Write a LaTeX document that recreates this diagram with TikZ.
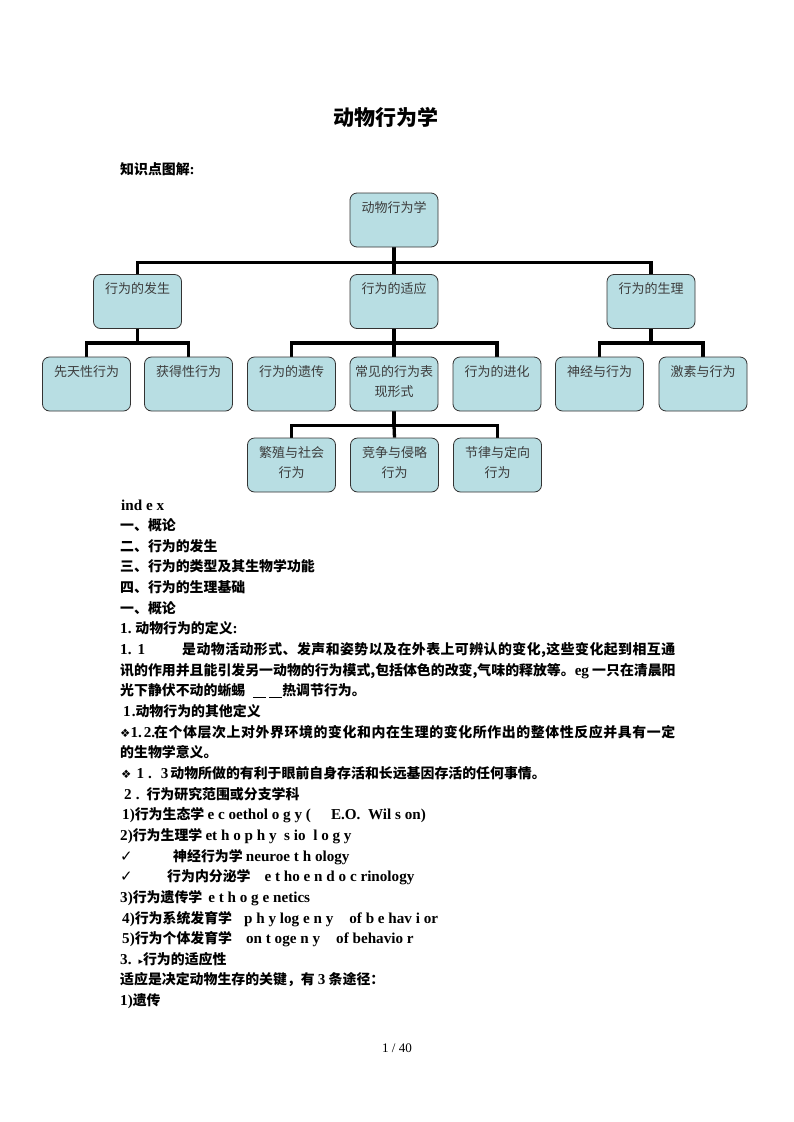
\documentclass[tikz,border=0pt]{standalone}
\usepackage{fontspec}
\setmainfont{Noto Sans CJK SC}
\newfontfamily\lat{Liberation Serif}[Scale=1.09]
\newfontfamily\sym{DejaVu Sans}
\usetikzlibrary{backgrounds}
\definecolor{boxfill}{RGB}{184,222,227}
\definecolor{boxtext}{RGB}{60,60,60}
\newcommand\La[1]{{\lat #1}}
\def\sprA#1{#1\sprB}
\def\sprB#1{\ifx#1\relax\else\hfil#1\expandafter\sprB\fi}
\newcommand\spreadto[2]{\hbox to #1{\sprA#2\relax}}
\newcommand\bx[1]{\parbox[t][54pt][t]{88pt}{\centering\rule{0pt}{19pt}#1}}
\newcommand\dia{{\sym\fontsize{11.5}{12}\selectfont ❖}}
\newcommand\chk{{\sym\mdseries\fontsize{15}{15}\selectfont ✓}}
\tikzset{
  cbox/.style={draw=black!80, line width=0.8pt, fill=boxfill, rounded corners=7pt,
    inner sep=0pt, text=boxtext, font=\fontsize{13}{20.5}\selectfont},
  conn/.style={line width=3.3pt, black},
  txt/.style={anchor=base west, inner sep=0pt, font=\fontsize{13.9}{16}\selectfont\bfseries},
}
\begin{document}
\begin{tikzpicture}[x=1pt, y=-1pt]
\useasboundingbox (0,0) rectangle (793,1122);

\node[anchor=base, inner sep=0pt, font=\fontsize{21}{24}\selectfont\bfseries] (title) at (385.5,125) {动物行为学};
\node[txt] (sub) at (120,174) {知识点图解\La{:}};

% tree
\node[cbox] (root) at (394,220) {\bx{动物行为学}};
\node[cbox] (fa) at (137.5,301.5) {\bx{行为的发生}};
\node[cbox] (sy) at (394,301.5) {\bx{行为的适应}};
\node[cbox] (sl) at (651,301.5) {\bx{行为的生理}};
\node[cbox] (xt) at (86.5,384) {\bx{先天性行为}};
\node[cbox] (hd) at (188.5,384) {\bx{获得性行为}};
\node[cbox] (yc) at (291.5,384) {\bx{行为的遗传}};
\node[cbox] (cj) at (394,384) {\bx{常见的行为表\\现形式}};
\node[cbox] (jh) at (497,384) {\bx{行为的进化}};
\node[cbox] (sj) at (599.5,384) {\bx{神经与行为}};
\node[cbox] (js) at (703,384) {\bx{激素与行为}};
\node[cbox] (fz) at (291.5,465) {\bx{繁殖与社会\\行为}};
\node[cbox] (jz) at (394.5,465) {\bx{竞争与侵略\\行为}};
\node[cbox] (jl) at (497.5,465) {\bx{节律与定向\\行为}};

\begin{scope}[on background layer]
\fill[white] (0,0) rectangle (793,1122);
\draw[conn] (root.south) -- ++(0,15) coordinate (j1);
\draw[conn] (fa.north) |- (j1) -| (sl.north);
\draw[conn] (j1) -- (sy.north);
\draw[conn] (fa.south) -- ++(0,14) coordinate (j2);
\draw[conn] (xt.north) |- (j2) -| (hd.north);
\draw[conn] (sy.south) -- ++(0,14) coordinate (j3);
\draw[conn] (yc.north) |- (j3) -| (jh.north);
\draw[conn] (j3) -- (cj.north);
\draw[conn] (sl.south) -- ++(0,14) coordinate (j4);
\draw[conn] (sj.north) |- (j4) -| (js.north);
\draw[conn] (cj.south) -- ++(0,14) coordinate (j5);
\draw[conn] (fz.north) |- (j5) -| (jl.north);
\draw[conn] (j5) -- (jz.north);
\end{scope}

% text lines
\node[txt] (l0) at (121,510) {\La{ind e x}};
\node[txt] (l1) at (120,530.65) {一、概论};
\node[txt] (l2) at (120,551.3) {二、行为的发生};
\node[txt] (l3) at (120,571.95) {三、行为的类型及其生物学功能};
\node[txt] (l4) at (120,592.6) {四、行为的生理基础};
\node[txt] (l5) at (120,613.25) {一、概论};
\node[txt] (l6) at (120,633.9) {\La{1.\ }动物行为的定义\La{:}};
\node[txt] (l7) at (120,654.55) {\makebox[62pt][l]{\La{1.\hspace{6pt}1}}\spreadto{493pt}{是动物活动形式、发声和姿势以及在外表上可辨认的变化,这些变化起到相互通}};
\node[txt] (l8) at (120,675.2) {讯的作用并且能引发另一动物的行为模式,包括体色的改变,气味的释放等。\La{eg} 一只在清晨阳};
\node[txt] (l9) at (120,695.85) {光下静伏不动的蜥蜴\hspace{8pt}\rule[-2pt]{13pt}{1pt}\hspace{3pt}\rule[-2pt]{13pt}{1pt}热调节行为。};
\node[txt] (l10) at (123,716.5) {\La{1\hspace{1pt}.}动物行为的其他定义};
\node[txt] (l11) at (120,737.15) {\makebox[34pt][l]{\dia\La{1.\hspace{2pt}2.}}\spreadto{521pt}{在个体层次上对外界环境的变化和内在生理的变化所作出的整体性反应并具有一定}};
\node[txt] (l12) at (120,757.8) {的生物学意义。};
\node[txt] (l13) at (121,778.45) {\dia\hspace{5pt}\La{1\hspace{4pt}.\hspace{9pt}3}\hspace{2pt}动物所做的有利于眼前自身存活和长远基因存活的任何事情。};
\node[txt] (l14) at (124,799.1) {\La{2\hspace{4pt}.}\hspace{7pt}行为研究范围或分支学科};
\node[txt] (l15) at (122,819.75) {\La{1)}行为生态学 \La{e c oethol o g y (\hspace{20pt}E.O.\ \ Wil s on)}};
\node[txt] (l16) at (120,840.4) {\La{2)}行为生理学 \La{et h o p h y\ \ s io\ \ l o g y}};
\node[txt] (l17) at (120,861.05) {\makebox[53pt][l]{\chk}神经行为学 \La{neuroe\ t\ h ology}};
\node[txt] (l18) at (120,881.7) {\makebox[47pt][l]{\chk}行为内分泌学\hspace{14pt}\La{e t ho e n d o c rinology}};
\node[txt] (l19) at (120,902.35) {\La{3)}行为遗传学\hspace{6pt}\La{e\ t h o g e netics}};
\node[txt] (l20) at (122,923) {\La{4)}行为系统发育学\hspace{12pt}\La{p h y log e n y\hspace{16pt}of b e hav i or}};
\node[txt] (l21) at (122,943.65) {\La{5)}行为个体发育学\hspace{14pt}\La{on t oge n y\hspace{16pt}of behavio r}};
\node[txt] (l22) at (120,964.3) {\La{3.}\hspace{7pt}{\sym\fontsize{9}{9}\selectfont ▸}行为的适应性};
\node[txt] (l23) at (120,984.95) {适应是决定动物生存的关键，有 \La{3} 条途径：};
\node[txt] (l24) at (120,1005.6) {\La{1)}遗传};

\node[anchor=base, inner sep=0pt, font=\lat\fontsize{12}{14}\selectfont] (page) at (397,1052) {1 / 40};
\end{tikzpicture}
\end{document}
